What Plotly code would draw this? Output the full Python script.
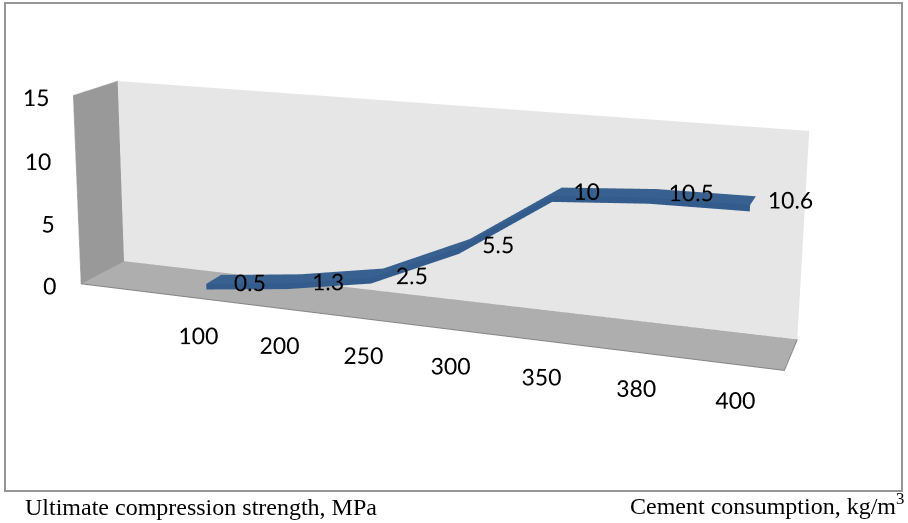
import plotly.graph_objects as go
import numpy as np

categories = ["100", "200", "250", "300", "350", "380", "400"]
values = [0.5, 1.3, 2.5, 5.5, 10, 10.5, 10.6]
value_ticks = [0, 5, 10, 15]
x_title = "Ultimate compression strength, MPa"
y_title = "Cement consumption, kg/m<sup>3</sup>"

n = len(categories)
xs = np.arange(n)
vals = np.array(values)
ticks = np.array(value_ticks)
x0, x1 = -1.45, 6.45
y0, y1 = 0.0, 1.0
z0, z1 = value_ticks[0], value_ticks[-1]
xr, yr, zr = [-2.0, 6.7], [-0.2, 1.02], [-6.0, 15.2]

# oversized canvas: plotly's fixed 45 degree field of view needs this size for the long lens
W, H = 1400, 1352
LEFT, TOP = -317, -531
SERIF = "Liberation Serif"
FONT = "Lato"
FS = 23
NOLIGHT = dict(ambient=1, diffuse=0, specular=0, fresnel=0)

fig = go.Figure()

def quad(x, y, z, color):
    fig.add_trace(go.Mesh3d(x=x, y=y, z=z, i=[0, 0], j=[1, 2], k=[2, 3], color=color,
                            flatshading=True, hoverinfo="skip", lighting=NOLIGHT))

def edge(x, y, z, color, width=2):
    fig.add_trace(go.Scatter3d(x=x, y=y, z=z, mode="lines", line=dict(color=color, width=width), hoverinfo="skip"))

def flat(yy, zz, color):
    fig.add_trace(go.Surface(x=np.vstack([xs, xs]), y=yy, z=zz, showscale=False,
                             colorscale=[[0, color], [1, color]], hoverinfo="skip", lighting=NOLIGHT))

quad([x0, x1, x1, x0], [y1] * 4, [z0, z0, z1, z1], "#e6e6e6")
quad([x0] * 4, [y0, y1, y1, y0], [z0, z0, z1, z1], "#999999")
quad([x0, x1, x1, x0], [y0, y0, y1, y1], [z0] * 4, "#aeaeae")
edge([x0, x1, x1, x0, x0], [y0, y0, y1, y1, y0], [z0] * 5, "#858585", 2)
edge([x0, x0, x0, x0], [y0, y0, y1, y1], [z0, z1, z1, z0], "#bdbdbd", 1)

# ribbon: top face plus front face
front, back = np.full(n, 0.31), np.full(n, 0.69)
flat(np.vstack([front, back]), np.vstack([vals, vals]), "#38618f")
flat(np.vstack([front, front]), np.vstack([vals - 0.45, vals]), "#335c8c")

fig.add_trace(go.Scatter3d(x=xs * 0.967 + 0.2, y=np.full(n, 0.05), z=vals + 0.75, mode="text",
                           text=[str(v) for v in values],
                           textposition="middle right", textfont=dict(size=FS, color="black", family=FONT),
                           hoverinfo="skip"))
fig.add_trace(go.Scatter3d(x=xs * 0.99 + 0.05, y=np.full(n, y0), z=np.linspace(z0 - 3.0, z0 - 2.55, n), mode="text",
                           text=categories, textposition="middle center",
                           textfont=dict(size=FS, color="black", family=FONT), hoverinfo="skip"))
fig.add_trace(go.Scatter3d(x=[x0 - 0.03] * len(ticks), y=[y0] * len(ticks), z=ticks - 0.2, mode="text",
                           text=[str(v) for v in value_ticks], textposition="middle left",
                           textfont=dict(size=FS, color="black", family=FONT), hoverinfo="skip"))

# camera solved from the vanishing points of the reference
k = 1 / 500
sx, sy, sz = 659 * k / (x1 - x0), 81.5 * k / (y1 - y0), 183 * k / (z1 - z0)
asp = dict(x=(xr[1] - xr[0]) * sx, y=(yr[1] - yr[0]) * sy, z=(zr[1] - zr[0]) * sz)
b = np.array([((x0 + x1) - sum(xr)) / 2 * sx, ((y0 + y1) - sum(yr)) / 2 * sy, ((z0 + z1) - sum(zr)) / 2 * sz])
eye = b + np.array([477.5, -1330.9, 371.4]) * k
look = b + np.array([-36, 0, 59]) * k

def px(x):
    return (x - LEFT) / W

def py(y):
    return 1 - (y - TOP) / H

hidden = dict(visible=False, showgrid=False, zeroline=False, showspikes=False, autorange=False)
fig.update_layout(
    width=W, height=H, margin=dict(l=0, r=0, t=0, b=0), showlegend=False, paper_bgcolor="white",
    scene=dict(xaxis=dict(hidden, range=xr), yaxis=dict(hidden, range=yr), zaxis=dict(hidden, range=zr),
               aspectmode="manual", aspectratio=asp,
               camera=dict(eye=dict(x=eye[0], y=eye[1], z=eye[2]), center=dict(x=look[0], y=look[1], z=look[2]),
                           up=dict(x=0.0069, y=0.00265, z=1), projection=dict(type="perspective")),
               domain=dict(x=[0, 1], y=[0, 1])),
    shapes=[dict(type="rect", xref="paper", yref="paper", x0=px(5), x1=px(902), y0=py(491), y1=py(3),
                 line=dict(color="#969696", width=2), fillcolor="rgba(0,0,0,0)")],
    annotations=[
        dict(text=x_title, xref="paper", yref="paper", x=px(23), y=py(507), xanchor="left", yanchor="middle",
             showarrow=False, font=dict(family=SERIF, size=24, color="black")),
        dict(text=y_title, xref="paper", yref="paper", x=px(906), y=py(504), xanchor="right", yanchor="middle",
             showarrow=False, font=dict(family=SERIF, size=24, color="black")),
    ],
)
post = ("var g=document.getElementById('{plot_id}');g.style.position='absolute';"
        f"g.style.left='{LEFT}px';g.style.top='{TOP}px';"
        "document.documentElement.style.overflow='hidden';document.body.style.overflow='hidden';")
fig.write_html("out.html", post_script=post, config=dict(responsive=False))
